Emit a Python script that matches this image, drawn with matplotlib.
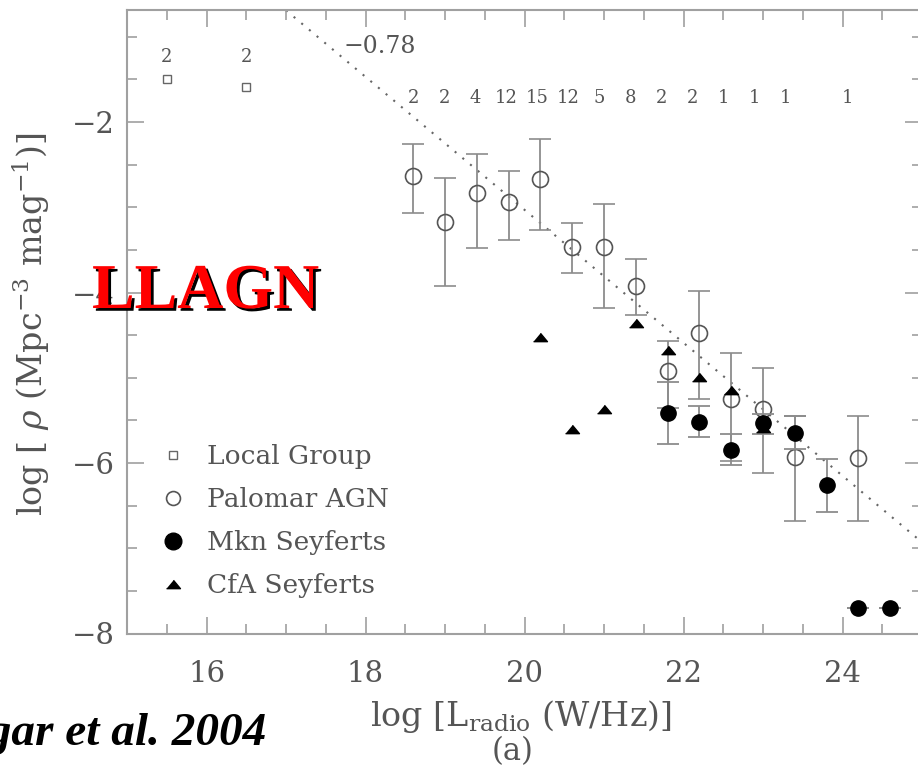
import matplotlib
matplotlib.use('Agg')
import matplotlib.pyplot as plt
from matplotlib.lines import Line2D
import matplotlib.patheffects as pe
import numpy as np

plt.rcParams['font.family'] = ['DejaVu Serif']
plt.rcParams['mathtext.fontset'] = 'dejavuserif'

# ---------------- data ----------------
local_x = [15.5, 16.5]
local_y = [-1.50, -1.59]
local_n = ['2', '2']

palomar_x = [18.6, 19.0, 19.4, 19.8, 20.2, 20.6, 21.0, 21.4, 21.8, 22.2, 22.6, 23.0, 23.4, 24.2]
palomar_y = [-2.63, -3.17, -2.83, -2.94, -2.67, -3.47, -3.47, -3.92, -4.92, -4.48, -5.25, -5.37, -5.93, -5.94]
palomar_hi = [-2.26, -2.66, -2.38, -2.58, -2.20, -3.19, -2.96, -3.61, -4.57, -3.98, -4.71, -4.89, -5.45, -5.45]
palomar_lo = [-3.07, -3.92, -3.48, -3.38, -3.27, -3.77, -4.18, -4.26, -5.36, -5.25, -5.98, -6.12, -6.68, -6.68]
palomar_n = ['2', '2', '4', '12', '15', '12', '5', '8', '2', '2', '1', '1', '1', '1']

mkn_x = [21.8, 22.2, 22.6, 23.0, 23.4, 23.8, 24.2, 24.6]
mkn_y = [-5.41, -5.52, -5.85, -5.53, -5.65, -6.26, -7.70, -7.70]
mkn_hi = [-5.05, -5.33, -5.66, -5.42, -5.45, -5.95, -7.70, -7.70]
mkn_lo = [-5.78, -5.70, -6.02, -5.66, -5.84, -6.58, -7.70, -7.70]

cfa_x = [20.2, 20.6, 21.0, 21.4, 21.8, 22.2, 22.6, 23.0]
cfa_y = [-4.52, -5.60, -5.37, -4.36, -4.67, -4.99, -5.14, -5.59]

fit_slope = -0.78
fit_x0, fit_y0 = 17.0, -0.69
fit_x = [17.0, 25.0]

legend_labels = ['Local Group', 'Palomar AGN', 'Mkn Seyferts', 'CfA Seyferts']

# ---------------- styles ----------------
TXT = '#555555'
AX = '#a0a0a0'
EB = '#8c8c8c'
tri = [(-1, -0.6), (1, -0.6), (0, 0.6)]

fig = plt.figure(figsize=(9.18, 7.67), dpi=100)
ax = fig.add_axes([127/918, 1-633.5/767, (922-127)/918, (633.5-10)/767])
ax.set_xlim(15, 25)
ax.set_ylim(-8, -0.686)

# fit line
fx = np.array(fit_x)
ax.plot(fx, fit_y0 + fit_slope*(fx - fit_x0), color='#666666', lw=1.5,
        linestyle=(0, (1, 3.8)), zorder=1)

# Palomar
py = np.array(palomar_y)
ax.errorbar(palomar_x, py, yerr=[py - np.array(palomar_lo), np.array(palomar_hi) - py],
            fmt='o', ms=11.5, mfc='none', mec='#555555', mew=1.2, ecolor=EB,
            elinewidth=1.3, capsize=8, capthick=1.3, zorder=2)
# Mkn
my = np.array(mkn_y)
ax.errorbar(mkn_x, my, yerr=[my - np.array(mkn_lo), np.array(mkn_hi) - my],
            fmt='o', ms=11, mfc='black', mec='black', ecolor=EB,
            elinewidth=1.3, capsize=8, capthick=1.3, zorder=3)
# CfA
ax.plot(cfa_x, cfa_y, ls='none', marker=tri, ms=10, color='black', zorder=4)
# Local Group
ax.plot(local_x, local_y, ls='none', marker='s', ms=6, mfc='none', mec='#666666', mew=1.0, zorder=3)

# counts
for x, n in zip(local_x, local_n):
    ax.text(x, -1.24, n, ha='center', va='center', fontsize=13, color=TXT)
for x, n in zip(palomar_x, palomar_n):
    ax.text(18.6 + (x - 18.6)*0.975, -1.72, n, ha='center', va='center', fontsize=13, color=TXT)
ax.text(17.72, -1.12, '\u22120.78', ha='left', va='center', fontsize=17, color=TXT)

# axes styling
for s in ax.spines.values():
    s.set_color(AX)
    s.set_linewidth(1.5)
ax.set_xticks([16, 18, 20, 22, 24])
ax.set_xticks(np.arange(15, 25.01, 0.5), minor=True)
ax.set_yticks([-8, -6, -4, -2])
ax.set_yticks(np.arange(-8, -0.6, 0.5), minor=True)
ax.tick_params(which='both', direction='in', top=True, right=True, color=AX,
               width=1.2, labelcolor=TXT, labelsize=21)
ax.tick_params(which='major', length=12)
ax.tick_params(which='minor', length=7)
ax.tick_params(axis='x', pad=19)
ax.tick_params(axis='y', pad=9)

# legend
handles = [
    Line2D([], [], ls='none', marker='s', ms=6, mfc='none', mec='#666666', mew=1.0),
    Line2D([], [], ls='none', marker='o', ms=10, mfc='none', mec='#555555', mew=1.2),
    Line2D([], [], ls='none', marker='o', ms=12, color='black'),
    Line2D([], [], ls='none', marker=tri, ms=10, color='black'),
]
ax.legend(handles, legend_labels, loc='upper left', bbox_to_anchor=(0.0415, 0.304),
          frameon=False, fontsize=19, labelcolor=TXT, handlelength=1.0,
          handletextpad=0.8, labelspacing=0.68, borderaxespad=0, borderpad=0)

# labels
fig.text(521/918, 1-726/767, r'log [L$_{\rm radio}$ (W/Hz)]', ha='center', va='baseline',
         fontsize=24, color=TXT)
fig.text(513/918, 1-760/767, '(a)', ha='center', va='baseline', fontsize=22, color=TXT)
fig.text(31/918, 1-324/767, r'log [ $\rho$ (Mpc$^{-3}$ mag$^{-1}$)]', rotation=90,
         ha='center', va='center', fontsize=24, color=TXT)

fig.text(92/918, 1-308/767, 'LLAGN', family='Liberation Serif', fontweight='bold',
         fontsize=46, color='red', ha='left', va='baseline',
         path_effects=[pe.withSimplePatchShadow(offset=(2, -2), shadow_rgbFace='black', alpha=1)])
fig.text(267/918, 1-745/767, 'Nagar et al. 2004', family='Liberation Serif', fontweight='bold',
         fontstyle='italic', fontsize=34, color='black', ha='right', va='baseline')

fig.savefig('out.png', dpi=100)
